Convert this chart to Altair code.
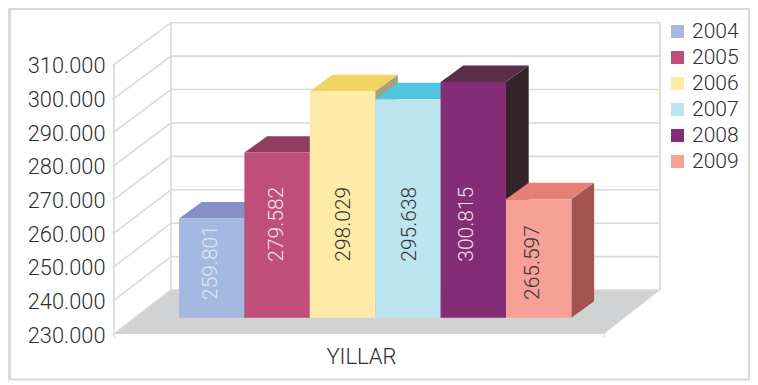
import altair as alt
import pandas as pd

years = ["2004", "2005", "2006", "2007", "2008", "2009"]
values = [259801, 279582, 298029, 295638, 300815, 265597]
value_labels = ["259.801", "279.582", "298.029", "295.638", "300.815", "265.597"]
front_colors = ["#a3b9e0", "#bf4e79", "#feebaa", "#bce5ef", "#842d77", "#f7a095"]
top_colors = ["#8590c6", "#903d5f", "#f0d563", "#4fc6e0", "#5a2d48", "#e67f76"]
side_colors = ["#6d7aa6", "#7d3350", "#a89f80", "#7fb4c2", "#322429", "#a35350"]
label_colors = ["#e3e9f5", "#f6e4ec", "#333333", "#333333", "#efe2ee", "#333333"]
label_low = [True, False, False, False, False, True]
label_shift = [-1, 0, 1, 2, -6, -6]
ticks = [230000, 240000, 250000, 260000, 270000, 280000, 290000, 300000, 310000]

W, H = 742, 374
ORIGIN_X, ORIGIN_Y = 8, 8
FRONT_Y0, PX_PER_10K = 334.0, 33.66
BACK_Y0, BACK_PX = 290.0, 33.41
BAR_Y0, BAR_PX = 317.7, 33.3
BAR_X0, BAR_W = 179.0, 65.4
DEPTH_X, DEPTH_Y = 22.7, 16.4
FONT = "Roboto"
WEIGHT = 300
TEXT = "#2e2e2e"
LINE = "#d9d9d9"


def v(py):
    return 230000 + (FRONT_Y0 - py) * 10000 / PX_PER_10K


X = alt.Scale(domain=[ORIGIN_X, ORIGIN_X + W], nice=False, zero=False)
Y = alt.Scale(domain=[v(ORIGIN_Y + H), v(ORIGIN_Y)], nice=False, zero=False)
xq = lambda f: alt.X(f"{f}:Q", scale=X, axis=None, title=None)
yq = lambda f: alt.Y(f"{f}:Q", scale=Y, axis=None, title=None)

# frame
frame = alt.Chart(pd.DataFrame({"x": [10], "x2": [749], "y": [v(9)], "y2": [v(379.5)]})).mark_rect(
    fill="white", stroke=LINE, strokeWidth=2
).encode(x=xq("x"), x2="x2:Q", y=yq("y"), y2="y2:Q")

# floor
floor = alt.Chart(pd.DataFrame({"y": [v(FRONT_Y0), v(BACK_Y0)], "x": [114, 171], "x2": [604, 660]})).mark_area(
    orient="horizontal", color="#d1d2d4"
).encode(y=yq("y"), x=xq("x"), x2="x2:Q")

# walls
back = [BACK_Y0 - (t - 230000) / 10000 * BACK_PX for t in ticks]
front = [FRONT_Y0 - (t - 230000) / 10000 * PX_PER_10K for t in ticks]
g = pd.DataFrame(
    {"yb": [v(p) for p in back], "yf": [v(p) for p in front], "xl": [171] * 9, "xr": [660] * 9, "xf": [114] * 9}
)
rule = dict(color=LINE, strokeWidth=1.6)
h_lines = alt.Chart(g).mark_rule(**rule).encode(x=xq("xl"), x2="xr:Q", y=yq("yb"))
diag = alt.Chart(g).mark_rule(**rule).encode(x=xq("xf"), x2="xl:Q", y=yq("yf"), y2="yb:Q")
vert = pd.DataFrame(
    {"x": [114, 171, 660], "y": [v(front[0]), v(back[0]), v(back[0])], "y2": [v(front[-1]), v(back[-1]), v(back[-1])]}
)
v_lines = alt.Chart(vert).mark_rule(**rule).encode(x=xq("x"), y=yq("y"), y2="y2:Q")

# bars
bars = []
side_rows, top_rows, label_rows = [], [], []
for i, (yr, val) in enumerate(zip(years, values)):
    x0 = BAR_X0 + i * BAR_W
    x1 = x0 + BAR_W
    top_py = BAR_Y0 - (val - 230000) / 10000 * BAR_PX
    bars.append(dict(year=yr, x=x0, x2=x1, y=v(BAR_Y0), y2=v(top_py)))
    side_rows += [
        dict(year=yr, fill=side_colors[i], x=x1, y=v(BAR_Y0), y2=v(top_py)),
        dict(year=yr, fill=side_colors[i], x=x1 + DEPTH_X, y=v(BAR_Y0 - DEPTH_Y), y2=v(top_py - DEPTH_Y)),
    ]
    top_rows += [
        dict(year=yr, fill=top_colors[i], y=v(top_py), x=x0, x2=x1),
        dict(year=yr, fill=top_colors[i], y=v(top_py - DEPTH_Y), x=x0 + DEPTH_X, x2=x1 + DEPTH_X),
    ]
    label_rows.append(
        dict(
            year=yr,
            text=value_labels[i],
            color=label_colors[i],
            x=(x0 + x1) / 2 + label_shift[i],
            y=v(300 if label_low[i] else 261.7),
        )
    )

sides = alt.Chart(pd.DataFrame(side_rows)).mark_area(orient="vertical").encode(
    x=xq("x"), y=yq("y"), y2="y2:Q", fill=alt.Fill("fill:N", scale=None, legend=None), detail="year:N"
)
tops = alt.Chart(pd.DataFrame(top_rows)).mark_area(orient="horizontal").encode(
    y=yq("y"), x=xq("x"), x2="x2:Q", fill=alt.Fill("fill:N", scale=None, legend=None), detail="year:N"
)
fronts = alt.Chart(pd.DataFrame(bars)).mark_rect().encode(
    x=xq("x"),
    x2="x2:Q",
    y=yq("y"),
    y2="y2:Q",
    color=alt.Color(
        "year:N",
        scale=alt.Scale(domain=years, range=front_colors),
        legend=alt.Legend(
            orient="none",
            legendX=659,
            legendY=13,
            title=None,
            symbolType="square",
            symbolSize=169,
            symbolStrokeWidth=0,
            labelFont=FONT,
            labelFontWeight=WEIGHT,
            labelFontSize=21,
            labelColor=TEXT,
            labelOffset=4,
            rowPadding=4,
            padding=0,
        ),
    ),
)
labels = alt.Chart(pd.DataFrame(label_rows)).mark_text(
    angle=270, align="left", baseline="middle", font=FONT, fontWeight=WEIGHT, fontSize=21
).encode(x=xq("x"), y=yq("y"), text="text:N", color=alt.Color("color:N", scale=None, legend=None))

# real axes, drawn on the scales above
axis_base = alt.Chart(pd.DataFrame({"x": [114], "y": [230000]})).mark_point(opacity=0).encode(
    x=alt.X(
        "x:Q",
        scale=X,
        title="YILLAR",
        axis=alt.Axis(
            values=[114, 604],
            labels=False,
            grid=False,
            domain=False,
            offset=-(ORIGIN_Y + H - FRONT_Y0),
            orient="bottom",
            tickColor=LINE,
            tickWidth=1.6,
            tickSize=3,
            titleFont=FONT,
            titleFontSize=22,
            titleFontWeight=WEIGHT,
            titleColor=TEXT,
            titleX=353,
            titleY=22,
            titleBaseline="middle",
            titleAlign="center",
            zindex=1,
        ),
    ),
    y=alt.Y(
        "y:Q",
        scale=Y,
        title=None,
        axis=alt.Axis(
            values=ticks,
            labelExpr="replace(format(datum.value, ','), ',', '.')",
            grid=False,
            domain=False,
            offset=-(114 - ORIGIN_X),
            orient="left",
            tickColor=LINE,
            tickWidth=1.6,
            tickSize=2,
            labelPadding=7,
            labelOffset=1,
            labelFont=FONT,
            labelFontWeight=WEIGHT,
            labelFontSize=21.8,
            labelColor=TEXT,
            zindex=1,
        ),
    ),
)

chart = (
    alt.layer(frame, floor, h_lines, diag, v_lines, sides, tops, fronts, labels, axis_base)
    .resolve_scale(color="independent")
    .resolve_axis(x="independent", y="independent")
    .properties(width=W, height=H, padding=0, autosize=alt.AutoSizeParams(type="none"))
    .configure_view(stroke=None)
    .configure(background="white")
)
chart.save("out.html", embed_options={"renderer": "svg", "actions": False})
